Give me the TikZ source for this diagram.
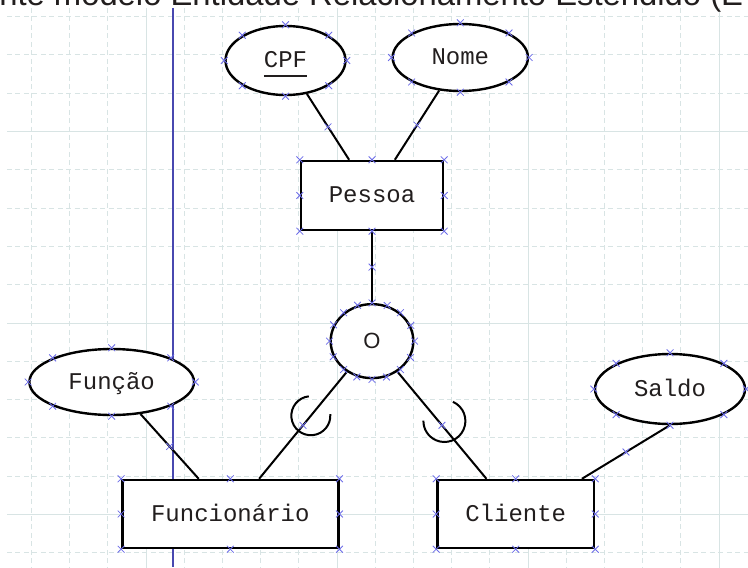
\documentclass[tikz,border=0pt]{standalone}
\usepackage{fontspec}
\setsansfont{Liberation Sans}
\setmonofont{Liberation Mono}
\RequirePackage{xcolor}
\tikzset{every picture/.style={/utils/exec={\ttfamily}}}
\usetikzlibrary{calc}
\usetikzlibrary{positioning}
\usetikzlibrary{shapes.geometric,shapes.misc}

\definecolor{gridline}{RGB}{216,228,228}
\definecolor{markblue}{RGB}{108,108,232}
\definecolor{guideblue}{RGB}{72,72,176}
\definecolor{ink}{RGB}{34,30,30}

\newsavebox{\keybox}
\newcommand{\pkey}[1]{\sbox{\keybox}{#1}\rlap{\smash{\rule[-6.6pt]{\wd\keybox}{1.5pt}}}\usebox{\keybox}}

\tikzset{
  gridminor/.style={draw=gridline, line width=0.75pt, dash pattern=on 3.75pt off 2.6pt},
  gridmajor/.style={draw=gridline, line width=0.75pt},
  guide/.style={draw=guideblue, line width=1.5pt},
  entity/.style={rectangle, draw, fill=white, line width=1.8pt, minimum height=51pt,
    text=ink, text height=11pt, text depth=0pt, font=\fontsize{18}{20}\selectfont},
  attrib/.style={ellipse, draw, fill=white, line width=1.8pt, inner sep=0pt,
    text=ink, text height=11pt, text depth=0pt, font=\fontsize{18}{20}\selectfont},
  spec/.style={ellipse, draw, fill=white, line width=1.8pt, inner sep=0pt,
    minimum width=62pt, minimum height=55.5pt, text=ink, font=\sffamily\fontsize{16.5}{18}\selectfont},
  link/.style={line width=1.5pt},
  selmark/.style={cross out, draw=markblue, line width=0.6pt, minimum size=4.5pt, inner sep=0pt},
}

\begin{document}
\begin{tikzpicture}[x=0.75pt, y=0.75pt]
  \useasboundingbox (0,0) rectangle (748,-567);
  \clip (0,0) rectangle (748,-567);

  \foreach \k in {0,...,18}
    \draw [gridminor] (31.4+38.2*\k, -8) -- (31.4+38.2*\k, -567);
  \foreach \k in {0,...,14}
    \draw [gridminor] (7, -16.6-38.3*\k) -- (748, -16.6-38.3*\k);
  \foreach \k in {3,8,13,18}
    \draw [gridmajor] (31.4+38.2*\k, -8) -- (31.4+38.2*\k, -567);
  \foreach \k in {3,8,13}
    \draw [gridmajor] (7, -16.6-38.3*\k) -- (748, -16.6-38.3*\k);

  \draw [guide] (172.7, -8) -- (172.7, -567);

  \node [anchor=base west, inner sep=0pt, text=ink, font=\sffamily\fontsize{24.6}{28}\selectfont] (title) at (-1, -5.5) {nte modelo Entidade Relacionamento Estendido (E};

  \node [attrib, minimum width=90pt, minimum height=51.75pt] (cpf) at (285.5, -60.5) {\pkey{CPF}};
  \node [attrib, minimum width=101.5pt, minimum height=50.25pt] (nome) at (460.3, -57.5) {Nome};
  \node [entity, minimum width=106.5pt, minimum height=51.75pt] (pessoa) at (372, -195.5) {Pessoa};
  \node [spec, below=53.8pt of pessoa] (o) {O};
  \node [attrib, minimum width=123.5pt, minimum height=49.5pt] (funcao) at (111.7, -382) {Função};
  \node [entity, minimum width=162pt] (funcionario) at (230.3, -514) {Funcionário};
  \node [entity, minimum width=117.5pt, right=72.5pt of funcionario] (cliente) {Cliente};
  \node [attrib, minimum width=112.5pt, minimum height=52.5pt] (saldo) at (670, -389) {Saldo};

  \draw [link] (cpf) -- (pessoa) node [selmark, midway] {};
  \draw [link] (nome) -- (pessoa) node [selmark, midway] {};
  \draw [link] (pessoa) -- (o) node [selmark, midway] {};
  \draw [link] (o) -- (funcionario) node [selmark, midway] {} coordinate [pos=0.41] (subL);
  \draw [link] (o) -- (cliente) node [selmark, midway] {} coordinate [pos=0.46] (subR);
  \draw [link] (funcao) -- (funcionario) node [selmark, midway] {};
  \draw [link] (saldo.south) -- ([xshift=-10pt]cliente.north east) node [selmark, midway] {};

  \draw [link] ($(subL)+(96:19.5)$) arc [start angle=96, end angle=365, radius=19.5];
  \draw [link] ($(subR)+(6,0)+(66:21)$) arc [start angle=66, end angle=-181, radius=21];

  \foreach \n in {cpf,nome,pessoa,funcao,funcionario,cliente,saldo}
    \foreach \a in {north,north east,east,south east,south,south west,west,north west}
      \node [selmark] at (\n.\a) {};
  \foreach \a in {0,22.5,...,337.5}
    \node [selmark] at (o.\a) {};
\end{tikzpicture}
\end{document}
